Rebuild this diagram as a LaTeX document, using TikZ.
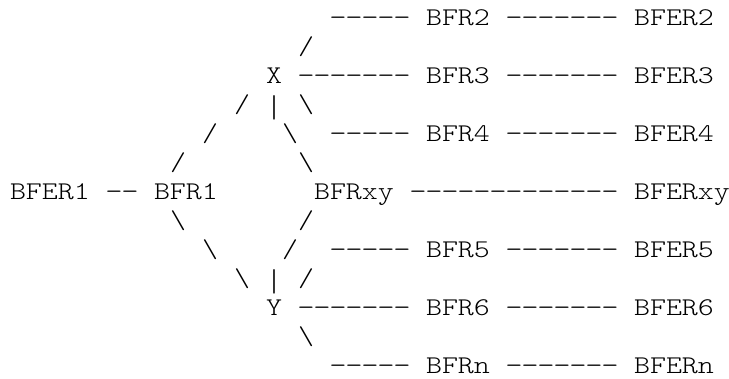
\documentclass[tikz,border=0pt]{standalone}
\usepackage{graphicx}
\usepackage{fontspec}
\newfontfamily\asciifont[FakeStretch=1.195]{Latin Modern Mono Light}
\tikzset{
  ascii/.style={font=\asciifont\fontsize{25.5}{29}\selectfont, text=black,
    anchor=base west, inner sep=0pt, outer sep=0pt}
}
% one character cell is 16 wide, one text row is 29 high
\newcommand\asciicell[4]{\node[ascii] (#1) at ({10+16*#2},{352.5-29*#3}) {#4};}
% a run of #1 hyphens, each one centred in its own cell
\newcommand\hyrun[1]{\foreach \k in {1,...,#1}{\makebox[16pt]{\scalebox{1.08}[1]{-}}}}
% a taller vertical bar reaching below the baseline
\newcommand\vbar{\raisebox{-5.5pt}{\scalebox{1}[1.24]{|}}}
\begin{document}
\begin{tikzpicture}[x=1pt,y=1pt]
  \useasboundingbox[fill=white] (0,0) rectangle (729,378);
  % row 0
  \asciicell{d0a}{20}{0}{\hyrun{5}}
  \asciicell{bfr2}{26}{0}{BFR2}
  \asciicell{d0b}{31}{0}{\hyrun{7}}
  \asciicell{bfer2}{39}{0}{BFER2}
  % row 1
  \asciicell{s1}{18}{1}{/}
  % row 2
  \asciicell{x}{16}{2}{X}
  \asciicell{d2a}{18}{2}{\hyrun{7}}
  \asciicell{bfr3}{26}{2}{BFR3}
  \asciicell{d2b}{31}{2}{\hyrun{7}}
  \asciicell{bfer3}{39}{2}{BFER3}
  % row 3
  \asciicell{s3a}{14}{3}{/}
  \asciicell{v3}{16}{3}{\vbar}
  \asciicell{b3}{18}{3}{\textbackslash}
  % row 4
  \asciicell{s4}{12}{4}{/}
  \asciicell{b4}{17}{4}{\textbackslash}
  \asciicell{d4a}{20}{4}{\hyrun{5}}
  \asciicell{bfr4}{26}{4}{BFR4}
  \asciicell{d4b}{31}{4}{\hyrun{7}}
  \asciicell{bfer4}{39}{4}{BFER4}
  % row 5
  \asciicell{s5}{10}{5}{/}
  \asciicell{b5}{18}{5}{\textbackslash}
  % row 6
  \asciicell{bfer1}{0}{6}{BFER1}
  \asciicell{d6a}{6}{6}{\hyrun{2}}
  \asciicell{bfr1}{9}{6}{BFR1}
  \asciicell{bfrxy}{19}{6}{BFRxy}
  \asciicell{d6b}{25}{6}{\hyrun{13}}
  \asciicell{bferxy}{39}{6}{BFERxy}
  % row 7
  \asciicell{b7}{10}{7}{\textbackslash}
  \asciicell{s7}{18}{7}{/}
  % row 8
  \asciicell{b8}{12}{8}{\textbackslash}
  \asciicell{s8}{17}{8}{/}
  \asciicell{d8a}{20}{8}{\hyrun{5}}
  \asciicell{bfr5}{26}{8}{BFR5}
  \asciicell{d8b}{31}{8}{\hyrun{7}}
  \asciicell{bfer5}{39}{8}{BFER5}
  % row 9
  \asciicell{b9}{14}{9}{\textbackslash}
  \asciicell{v9}{16}{9}{\vbar}
  \asciicell{s9}{18}{9}{/}
  % row 10
  \asciicell{y}{16}{10}{Y}
  \asciicell{d10a}{18}{10}{\hyrun{7}}
  \asciicell{bfr6}{26}{10}{BFR6}
  \asciicell{d10b}{31}{10}{\hyrun{7}}
  \asciicell{bfer6}{39}{10}{BFER6}
  % row 11
  \asciicell{b11}{18}{11}{\textbackslash}
  % row 12
  \asciicell{d12a}{20}{12}{\hyrun{5}}
  \asciicell{bfrn}{26}{12}{BFRn}
  \asciicell{d12b}{31}{12}{\hyrun{7}}
  \asciicell{bfern}{39}{12}{BFERn}
\end{tikzpicture}
\end{document}
